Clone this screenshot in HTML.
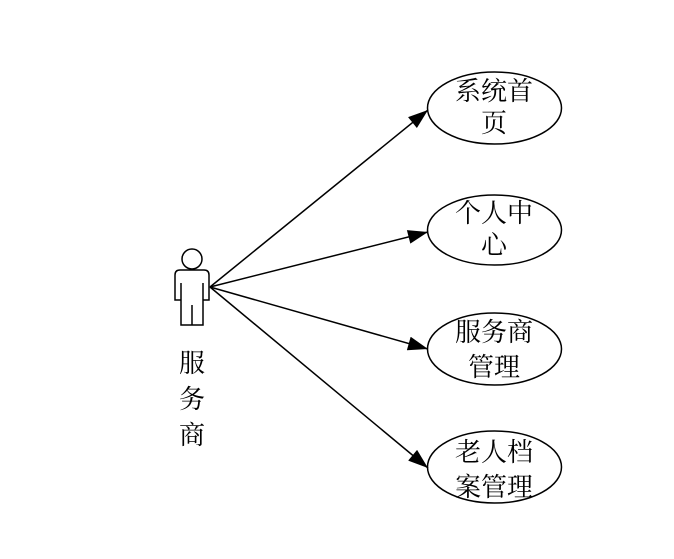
<!DOCTYPE html>
<html><head><style>body{margin:0;background:#fff}</style></head><body>
<svg width="674" height="554" xmlns="http://www.w3.org/2000/svg" font-family="'Liberation Serif','Noto Serif CJK SC',serif" font-size="26" fill="#000">
<defs><marker id="a" markerWidth="12" markerHeight="10" refX="11" refY="5" orient="auto" markerUnits="userSpaceOnUse"><path d="M0,0 L12,5 L0,10 z" fill="#000"/></marker>
<marker id="b" viewBox="0 0 20 14" markerWidth="22" markerHeight="14" refX="20" refY="7" orient="auto" markerUnits="userSpaceOnUse"><path d="M0,0 L20,7 L0,14 z"/></marker></defs>
<g stroke="#000" stroke-width="1.5" fill="none">
<circle cx="192" cy="259" r="10"/>
<path d="M180,270 H204 Q209,270 209,275 V300 H203 V325 H181 V300 H175 V275 Q175,270 180,270 Z M181,283 V300 M203,283 V300 M192,305 V325"/>
<line x1="210" y1="287" x2="428" y2="110" marker-end="url(#b)"/>
<line x1="210" y1="287" x2="428" y2="232" marker-end="url(#b)"/>
<line x1="210" y1="287" x2="428" y2="349" marker-end="url(#b)"/>
<line x1="210" y1="287" x2="428" y2="468" marker-end="url(#b)"/>
<ellipse cx="494.5" cy="108" rx="67" ry="36"/>
<ellipse cx="494.5" cy="230" rx="67" ry="35"/>
<ellipse cx="494.5" cy="349" rx="67" ry="36"/>
<ellipse cx="494.5" cy="467" rx="67" ry="36"/>
</g>
<g text-anchor="middle" stroke="none">
<text x="494" y="100">系统首</text><text x="494" y="132">页</text>
<text x="494" y="222">个人中</text><text x="494" y="254">心</text>
<text x="494" y="341">服务商</text><text x="494" y="376">管理</text>
<text x="494" y="461">老人档</text><text x="494" y="496">案管理</text>
<text x="192" y="372">服</text><text x="192" y="408">务</text><text x="192" y="444">商</text>
</g>
</svg>
</body></html>
